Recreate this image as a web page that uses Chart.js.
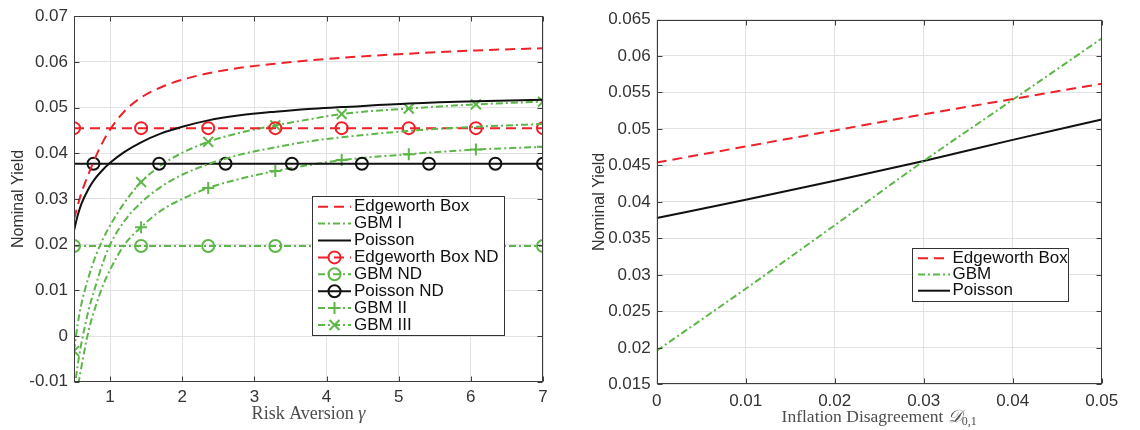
<!DOCTYPE html>
<html>
<head>
<meta charset="utf-8">
<title>Nominal Yield</title>
<script src="https://cdn.jsdelivr.net/npm/chart.js@4.4.1/dist/chart.umd.min.js"></script>
<style>
  body { margin: 0; background: #fff; }
  #wrap { position: relative; width: 1140px; height: 430px; }
  #wrap canvas { position: absolute; top: 0; }
  #left { left: 0; }
  #right { left: 570px; }
</style>
</head>
<body>
<div id="wrap">
  <canvas id="left" width="570" height="430"></canvas>
  <canvas id="right" width="570" height="430"></canvas>
</div>
<script>
// ---------- left panel: nominal yield vs risk aversion ----------
const gammaGrid    = [0.5, 0.55, 0.6, 0.7, 0.8, 0.9, 1.0, 1.2, 1.43, 1.7, 2.0, 2.36, 2.8, 3.29, 3.75, 4.21, 5.14, 6.07, 7];
const edgeworthBox = [0.0255, 0.0285, 0.0312, 0.0354, 0.0392, 0.0425, 0.0452, 0.0492, 0.0522, 0.0544, 0.0561, 0.0575, 0.0587, 0.0596, 0.0603, 0.0609, 0.0618, 0.0625, 0.0630];
const gbmI         = [-0.0125, -0.0065, -0.0018, 0.0055, 0.0110, 0.0160, 0.0200, 0.0252, 0.0292, 0.0326, 0.0353, 0.0376, 0.0397, 0.0413, 0.0426, 0.0435, 0.0449, 0.0458, 0.0464];
const poisson      = [0.0231, 0.0263, 0.0288, 0.0322, 0.0346, 0.0364, 0.0379, 0.0403, 0.0424, 0.0443, 0.0458, 0.0472, 0.0483, 0.0491, 0.0497, 0.0501, 0.0509, 0.0514, 0.0517];
const gbmII        = [-0.0170, -0.0115, -0.0070, 0.0010, 0.0065, 0.0110, 0.0145, 0.0200, 0.0238, 0.0274, 0.0300, 0.0324, 0.0344, 0.0361, 0.0374, 0.0385, 0.0398, 0.0408, 0.0414];
const gbmIII       = [-0.0033, 0.0025, 0.0068, 0.0128, 0.0175, 0.0212, 0.0242, 0.0292, 0.0337, 0.0373, 0.0401, 0.0425, 0.0445, 0.0461, 0.0474, 0.0486, 0.0498, 0.0507, 0.0513];

const ndGamma      = [0.5, 1.43, 2.36, 3.29, 4.21, 5.14, 6.07, 7];
const edgeworthND  = [0.0455, 0.0455, 0.0455, 0.0455, 0.0455, 0.0455, 0.0455, 0.0455];
const gbmND        = [0.0197, 0.0197, 0.0197, 0.0197, 0.0197, 0.0197, 0.0197, 0.0197];
const poissonNdGamma = [0.5, 0.77, 1.68, 2.6, 3.52, 4.49, 5.42, 6.34, 7];
const poissonND    = [0.0377, 0.0377, 0.0377, 0.0377, 0.0377, 0.0377, 0.0377, 0.0377, 0.0377];
const poissonNdMarks = [0.77, 1.68, 2.6, 3.52, 4.49, 5.42, 6.34, 7];

const gammaTicks   = [1, 2, 3, 4, 5, 6, 7];
const leftYTicks   = [-0.01, 0, 0.01, 0.02, 0.03, 0.04, 0.05, 0.06, 0.07];

// ---------- right panel: nominal yield vs inflation disagreement ----------
const disagreement   = [0, 0.01, 0.02, 0.03, 0.04, 0.05];
const edgeworthRight = [0.0454, 0.0476, 0.0498, 0.0520, 0.0541, 0.0562];
const gbmRight       = [0.0196, 0.0281, 0.0368, 0.0456, 0.0540, 0.0624];
const poissonRight   = [0.0378, 0.0403, 0.0429, 0.0456, 0.0485, 0.0513];
const disTicks       = [0, 0.01, 0.02, 0.03, 0.04, 0.05];
const rightYTicks    = [0.015, 0.02, 0.025, 0.03, 0.035, 0.04, 0.045, 0.05, 0.055, 0.06, 0.065];

const RED = '#ee2128', GREEN = '#5db748', BLACK = '#111111';
const DASH = [10, 6], DASHDOT = [7, 3, 2, 3];
const SANS = 'Liberation Sans, Arial, sans-serif';
const SERIF = 'Liberation Serif, Times New Roman, serif';

function pts(xs, ys) { return xs.map((x, i) => ({ x: x, y: ys[i] })); }
function fmt(v) { return String(Math.round(v * 1000) / 1000); }

function series(label, xs, ys, color, dash, mark) {
  return {
    label: label,
    data: pts(xs, ys),
    borderColor: color,
    borderWidth: 2,
    borderDash: dash,
    fill: false,
    cubicInterpolationMode: 'monotone',
    pointStyle: mark ? mark.style : 'circle',
    pointRadius: ctx => (mark && ctx.raw && mark.at.includes(ctx.raw.x)) ? mark.r : 0,
    pointBorderWidth: 2,
    pointBorderColor: color,
    pointBackgroundColor: 'rgba(0,0,0,0)',
    legendMark: mark
  };
}

function drawMark(c, style, x, y, r) {
  c.beginPath();
  if (style === 'circle') {
    c.arc(x, y, r, 0, Math.PI * 2);
  } else if (style === 'cross') {
    c.moveTo(x - r, y); c.lineTo(x + r, y);
    c.moveTo(x, y - r); c.lineTo(x, y + r);
  } else {
    const d = r * Math.SQRT1_2;
    c.moveTo(x - d, y - d); c.lineTo(x + d, y + d);
    c.moveTo(x - d, y + d); c.lineTo(x + d, y - d);
  }
  c.stroke();
}

// box with inward ticks on all four sides, like the original axes
const frame = {
  id: 'frame',
  afterDatasetsDraw(chart) {
    const c = chart.ctx, a = chart.chartArea, sx = chart.scales.x, sy = chart.scales.y;
    const L = Math.round(a.left) + 0.5, R = Math.round(a.right) - 0.5;
    const T = Math.round(a.top) + 0.5, B = Math.round(a.bottom) - 0.5;
    c.save();
    c.strokeStyle = '#3d3d3d';
    c.lineWidth = 1;
    c.strokeRect(L, T, R - L, B - T);
    c.beginPath();
    sx.ticks.forEach(t => {
      const p = Math.round(sx.getPixelForValue(t.value)) + 0.5;
      c.moveTo(p, B); c.lineTo(p, B - 5);
      c.moveTo(p, T); c.lineTo(p, T + 5);
    });
    sy.ticks.forEach(t => {
      const p = Math.round(sy.getPixelForValue(t.value)) + 0.5;
      c.moveTo(L, p); c.lineTo(L + 5, p);
      c.moveTo(R, p); c.lineTo(R - 5, p);
    });
    c.stroke();
    c.restore();
  }
};

const boxLegend = {
  id: 'boxLegend',
  afterDraw(chart, args, o) {
    const c = chart.ctx;
    c.save();
    c.fillStyle = '#fff';
    c.fillRect(o.x, o.y, o.w, o.h);
    c.strokeStyle = '#333';
    c.lineWidth = 1;
    c.strokeRect(o.x + 0.5, o.y + 0.5, o.w, o.h);
    c.font = '17px ' + SANS;
    c.textBaseline = 'middle';
    chart.data.datasets.forEach((ds, i) => {
      const y = o.y0 + i * o.row;
      c.strokeStyle = ds.borderColor;
      c.lineWidth = 2;
      c.setLineDash(ds.borderDash || []);
      c.beginPath();
      c.moveTo(o.x + o.s0, y);
      c.lineTo(o.x + o.s1, y);
      c.stroke();
      c.setLineDash([]);
      if (ds.legendMark) drawMark(c, ds.legendMark.style, o.x + (o.s0 + o.s1) / 2, y, ds.legendMark.r);
      c.fillStyle = '#111';
      c.fillText(ds.label, o.x + o.tx, y);
    });
    c.restore();
  }
};

const titles = {
  id: 'titles',
  afterDraw(chart, args, o) {
    const c = chart.ctx, a = chart.chartArea;
    c.save();
    let w = 0;
    o.xParts.forEach(p => { c.font = p.font; w += c.measureText(p.t).width; });
    let x = (a.left + a.right) / 2 - w / 2;
    c.fillStyle = '#4d4d4d';
    c.textBaseline = 'alphabetic';
    o.xParts.forEach(p => {
      c.font = p.font;
      c.fillText(p.t, x, o.xBase + (p.dy || 0));
      x += c.measureText(p.t).width;
    });
    c.translate(o.yX, (a.top + a.bottom) / 2);
    c.rotate(-Math.PI / 2);
    c.font = '16px ' + SANS;
    c.textAlign = 'center';
    c.fillStyle = '#333';
    c.fillText('Nominal Yield', 0, 0);
    c.restore();
  }
};

function axes(xMin, xMax, xTicks, yMin, yMax, yTicks, yWidth, xHeight, xPad) {
  const tickFont = { family: SANS, size: 17 };
  return {
    x: {
      type: 'linear', min: xMin, max: xMax,
      afterBuildTicks: s => { s.ticks = xTicks.map(v => ({ value: v })); },
      afterFit: s => { s.height = xHeight; },
      grid: { color: '#e2e2e2', drawTicks: false },
      border: { display: false },
      ticks: { font: tickFont, color: '#333', padding: xPad, maxRotation: 0, autoSkip: false, callback: fmt }
    },
    y: {
      type: 'linear', min: yMin, max: yMax,
      afterBuildTicks: s => { s.ticks = yTicks.map(v => ({ value: v })); },
      afterFit: s => { s.width = yWidth; },
      grid: { color: '#e2e2e2', drawTicks: false },
      border: { display: false },
      ticks: { font: tickFont, color: '#333', padding: 6, autoSkip: false, callback: fmt }
    }
  };
}

new Chart(document.getElementById('left'), {
  type: 'line',
  data: {
    datasets: [
      series('Edgeworth Box', gammaGrid, edgeworthBox, RED, DASH),
      series('GBM I', gammaGrid, gbmI, GREEN, DASHDOT),
      series('Poisson', gammaGrid, poisson, BLACK, []),
      series('Edgeworth Box ND', ndGamma, edgeworthND, RED, DASH, { style: 'circle', at: ndGamma, r: 6 }),
      series('GBM ND', ndGamma, gbmND, GREEN, DASHDOT, { style: 'circle', at: ndGamma, r: 6 }),
      series('Poisson ND', poissonNdGamma, poissonND, BLACK, [], { style: 'circle', at: poissonNdMarks, r: 6 }),
      series('GBM II', gammaGrid, gbmII, GREEN, DASHDOT, { style: 'cross', at: ndGamma, r: 6 }),
      series('GBM III', gammaGrid, gbmIII, GREEN, DASHDOT, { style: 'crossRot', at: ndGamma, r: 7 })
    ]
  },
  options: {
    responsive: false, animation: false, devicePixelRatio: 1, events: [],
    layout: { padding: { left: 0, right: 27, top: 10.7, bottom: 0 } },
    scales: axes(0.5, 7, gammaTicks, -0.01, 0.07, leftYTicks, 74, 48.3, 5),
    plugins: {
      legend: { display: false }, tooltip: { enabled: false },
      boxLegend: { x: 312, y: 196, w: 192, h: 139, y0: 206.7, row: 16.9, s0: 6, s1: 39, tx: 42 },
      titles: {
        xBase: 419, yX: 23,
        xParts: [{ t: 'Risk Aversion ', font: '18px ' + SERIF }, { t: 'γ', font: 'italic 18px ' + SERIF }]
      }
    }
  },
  plugins: [frame, boxLegend, titles]
});

new Chart(document.getElementById('right'), {
  type: 'line',
  data: {
    datasets: [
      series('Edgeworth Box', disagreement, edgeworthRight, RED, DASH),
      series('GBM', disagreement, gbmRight, GREEN, DASHDOT),
      series('Poisson', disagreement, poissonRight, BLACK, [])
    ]
  },
  options: {
    responsive: false, animation: false, devicePixelRatio: 1, events: [],
    layout: { padding: { left: 0, right: 38.3, top: 19.5, bottom: 0 } },
    scales: axes(0, 0.05, disTicks, 0.015, 0.065, rightYTicks, 86.7, 45.7, 7),
    plugins: {
      legend: { display: false }, tooltip: { enabled: false },
      boxLegend: { x: 342, y: 248, w: 156, h: 53, y0: 258.3, row: 16.2, s0: 6, s1: 38, tx: 40.5 },
      titles: {
        xBase: 421.5, yX: 33.5,
        xParts: [
          { t: 'Inflation Disagreement ', font: '17.5px ' + SERIF },
          { t: '𝒟', font: 'italic 17.5px ' + SERIF },
          { t: '0,1', font: '12px ' + SERIF, dy: 3.5 }
        ]
      }
    }
  },
  plugins: [frame, boxLegend, titles]
});
</script>
</body>
</html>
